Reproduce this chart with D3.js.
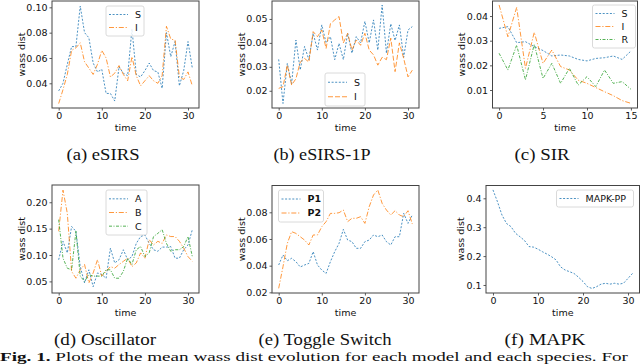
<!DOCTYPE html>
<html>
<head>
<meta charset="utf-8">
<script src="https://cdn.jsdelivr.net/npm/d3@7"></script>
<style>
body{margin:0;background:white;}
svg{display:block;}
.tick text{font-family:"DejaVu Sans",sans-serif;}
</style>
</head>
<body>
<div id="chart"></div>
<script>
// time steps
var steps32 = [0,1,2,3,4,5,6,7,8,9,10,11,12,13,14,15,16,17,18,19,20,21,22,23,24,25,26,27,28,29,30,31]
var steps16 = [0,1,2,3,4,5,6,7,8,9,10,11,12,13,14,15]

// (a) eSIRS
var esirsS = [0.034,0.040,0.055,0.069,0.069,0.101,0.080,0.076,0.056,0.049,0.051,0.032,0.032,0.026,0.053,0.048,0.046,0.083,0.047,0.045,0.050,0.056,0.050,0.049,0.036,0.080,0.061,0.073,0.038,0.050,0.073,0.052]
var esirsI = [0.024,0.035,0.047,0.066,0.068,0.072,0.057,0.052,0.047,0.055,0.066,0.060,0.045,0.048,0.054,0.047,0.042,0.061,0.046,0.038,0.042,0.046,0.042,0.040,0.046,0.085,0.075,0.074,0.045,0.043,0.049,0.038]

// (b) eSIRS-1P
var esirs1pS = [0.0331,0.0147,0.0314,0.0230,0.0412,0.0287,0.0385,0.0330,0.0440,0.0370,0.0475,0.0400,0.0426,0.0330,0.0398,0.0330,0.0440,0.0357,0.0426,0.0400,0.0490,0.0400,0.0496,0.0370,0.0558,0.0357,0.0480,0.0410,0.0475,0.0340,0.0454,0.0468]
var esirs1pI = [0.0210,0.0217,0.0307,0.0224,0.0250,0.0320,0.0335,0.0320,0.0447,0.0426,0.0454,0.0377,0.0480,0.0496,0.0510,0.0400,0.0440,0.0370,0.0412,0.0390,0.0440,0.0370,0.0350,0.0307,0.0340,0.0330,0.0420,0.0280,0.0400,0.0335,0.0258,0.0286]

// (c) SIR
var sirS = [0.0350,0.0357,0.0292,0.0296,0.0276,0.0260,0.0238,0.0242,0.0238,0.0224,0.0218,0.0228,0.0231,0.0238,0.0224,0.0258]
var sirI = [0.0445,0.0316,0.0435,0.0188,0.0334,0.0208,0.0262,0.0195,0.0181,0.0140,0.0127,0.0110,0.0093,0.0077,0.0057,0.0046]
var sirR = [0.0249,0.0181,0.0282,0.0141,0.0285,0.0147,0.0208,0.0127,0.0188,0.0120,0.0154,0.0114,0.0181,0.0127,0.0134,0.0103]

// (d) Oscillator
var oscA = [0.091,0.126,0.104,0.154,0.145,0.078,0.047,0.072,0.040,0.066,0.063,0.056,0.113,0.085,0.091,0.110,0.091,0.097,0.122,0.135,0.138,0.122,0.110,0.107,0.115,0.115,0.116,0.094,0.094,0.110,0.119,0.148]
var oscB = [0.145,0.223,0.179,0.069,0.056,0.072,0.082,0.047,0.066,0.091,0.060,0.069,0.078,0.075,0.082,0.088,0.094,0.078,0.085,0.104,0.094,0.129,0.119,0.126,0.122,0.138,0.135,0.135,0.126,0.113,0.097,0.088]
var oscC = [0.167,0.094,0.075,0.072,0.145,0.060,0.050,0.063,0.060,0.060,0.060,0.072,0.072,0.056,0.056,0.069,0.094,0.082,0.110,0.116,0.097,0.104,0.135,0.141,0.148,0.122,0.107,0.110,0.110,0.116,0.135,0.097]

// (e) Toggle Switch
var toggleP1 = [0.0405,0.0480,0.0437,0.0455,0.0430,0.0390,0.0405,0.0417,0.0505,0.0405,0.0367,0.0342,0.0430,0.0505,0.0567,0.0672,0.0592,0.0580,0.0530,0.0530,0.0580,0.0592,0.0630,0.0617,0.0630,0.0580,0.0555,0.0617,0.0617,0.0792,0.0717,0.0780]
var toggleP2 = [0.0230,0.0392,0.0567,0.0655,0.0642,0.0617,0.0592,0.0555,0.0630,0.0630,0.0692,0.0730,0.0792,0.0792,0.0797,0.0817,0.0730,0.0755,0.0755,0.0767,0.0717,0.0842,0.0930,0.0967,0.0867,0.0817,0.0780,0.0812,0.0780,0.0767,0.0812,0.0712]

// (f) MAPK
var mapkPP = [0.429,0.388,0.342,0.313,0.302,0.279,0.267,0.254,0.233,0.231,0.224,0.215,0.207,0.198,0.187,0.163,0.152,0.146,0.140,0.127,0.112,0.094,0.088,0.094,0.103,0.106,0.103,0.106,0.103,0.106,0.123,0.140]

var ticks31 = [0,10,20,30]
var ticks15 = [0,5,10,15]

var blue = "#1f77b4", orange = "#ff7f0e", green = "#2ca02c"
var dotted = "2,1.6", dashdot = "5,1.8,1.2,1.8", greenDash = "3,1.5,1,1.5"
var fontSans = "'DejaVu Sans',sans-serif"
var fontSerif = "'Liberation Serif',serif"

var panels = [
  {caption:"(a) eSIRS", box:[52,199,1,108], xd:[-1.55,32.55], yd:[0.0205,0.105], xt:ticks31, yt:[0.04,0.06,0.08,0.10], yf:".2f",
   series:[{name:"S",t:steps32,v:esirsS,c:blue,d:dotted},{name:"I",t:steps32,v:esirsI,c:orange,d:dashdot}],
   legend:[106,6,38,30], capX:103, capY:154, capW:73},
  {caption:"(b) eSIRS-1P", box:[272,419,1,108], xd:[-1.55,32.55], yd:[0.0128,0.0575], xt:ticks31, yt:[0.02,0.03,0.04,0.05], yf:".2f",
   series:[{name:"S",t:steps32,v:esirs1pS,c:blue,d:dotted},{name:"I",t:steps32,v:esirs1pI,c:orange,d:"5,2"}],
   legend:[325,73,40,33], capX:322, capY:154, capW:97},
  {caption:"(c) SIR", box:[492.5,637.5,1,108], xd:[-0.75,15.75], yd:[0.0027,0.0461], xt:ticks15, yt:[0.01,0.02,0.03,0.04], yf:".2f",
   series:[{name:"S",t:steps16,v:sirS,c:blue,d:dotted},{name:"I",t:steps16,v:sirI,c:orange,d:dashdot},{name:"R",t:steps16,v:sirR,c:green,d:greenDash}],
   legend:[592.5,5,43,43], capX:542, capY:154, capW:55},
  {caption:"(d) Oscillator", box:[52,199,185,293], xd:[-1.55,32.55], yd:[0.028,0.2327], xt:ticks31, yt:[0.05,0.10,0.15,0.20], yf:".2f",
   series:[{name:"A",t:steps32,v:oscA,c:blue,d:dotted},{name:"B",t:steps32,v:oscB,c:orange,d:dashdot},{name:"C",t:steps32,v:oscC,c:green,d:greenDash}],
   legend:[106,190,41,45], capX:105, capY:339, capW:102},
  {caption:"(e) Toggle Switch", box:[272,419,185.5,293], xd:[-1.55,32.55], yd:[0.0195,0.1001], xt:ticks31, yt:[0.02,0.04,0.06,0.08], yf:".2f",
   series:[{name:"P1",t:steps32,v:toggleP1,c:blue,d:dotted},{name:"P2",t:steps32,v:toggleP2,c:orange,d:dashdot}],
   legend:[278.5,190,45,32], bold:true, capX:325, capY:339, capW:133},
  {caption:"(f) MAPK", box:[486,639.5,185.5,293], xd:[-1.55,32.55], yd:[0.0723,0.4443], xt:ticks31, yt:[0.1,0.2,0.3,0.4], yf:".1f",
   series:[{name:"MAPK-PP",t:steps32,v:mapkPP,c:blue,d:dotted}],
   legend:[556.5,190,77,17], capX:545, capY:339, capW:81}
]

var svg = d3.select("#chart").append("svg")
  .attr("width",640)
  .attr("height",364)

panels.forEach(function(p){
  var b = p.box
  var x = d3.scaleLinear().domain(p.xd).range([b[0],b[1]])
  var y = d3.scaleLinear().domain(p.yd).range([b[3],b[2]])
  var g = svg.append("g")

  // lines
  var line = d3.line().x(function(d){return x(d[0])}).y(function(d){return y(d[1])})
  p.series.forEach(function(s){
    g.append("path")
      .datum(d3.zip(s.t,s.v))
      .attr("d",line)
      .attr("fill","none")
      .attr("stroke",s.c)
      .attr("stroke-width",1)
      .attr("stroke-dasharray",s.d)
      .attr("opacity",0.8)
  })

  // axes
  var xAxis = d3.axisBottom(x).tickValues(p.xt).tickSize(2.5).tickPadding(2).tickFormat(d3.format("d"))
  var yAxis = d3.axisLeft(y).tickValues(p.yt).tickSize(2.5).tickPadding(2).tickFormat(d3.format(p.yf))
  g.append("g").attr("transform","translate(0,"+b[3]+")").call(xAxis)
  g.append("g").attr("transform","translate("+b[0]+",0)").call(yAxis)
  g.selectAll(".domain").remove()
  g.selectAll(".tick line").attr("stroke","#333").attr("stroke-width",0.8)
  g.selectAll(".tick text").attr("font-size",9.5).attr("fill","#111")

  // frame
  g.append("rect")
    .attr("x",b[0]).attr("y",b[2])
    .attr("width",b[1]-b[0]).attr("height",b[3]-b[2])
    .attr("fill","none").attr("stroke","#444").attr("stroke-width",1)

  // axis labels
  g.append("text")
    .attr("x",(b[0]+b[1])/2).attr("y",b[3]+23)
    .attr("text-anchor","middle")
    .attr("font-family",fontSans).attr("font-size",9.5).attr("fill","#111")
    .text("time")
  var ylx = b[0] - (p.yf==".1f" ? 25 : 30.5)
  g.append("text")
    .attr("transform","translate("+ylx+","+((b[2]+b[3])/2)+") rotate(-90)")
    .attr("text-anchor","middle").attr("dy","0.35em")
    .attr("font-family",fontSans).attr("font-size",9.5).attr("fill","#111")
    .text("wass dist")

  // legend
  var L = p.legend
  g.append("rect")
    .attr("x",L[0]).attr("y",L[1]).attr("width",L[2]).attr("height",L[3])
    .attr("rx",2)
    .attr("fill","white").attr("fill-opacity",0.85)
    .attr("stroke","#d0d0d0").attr("stroke-width",0.8)
  var rowH = (L[3]-4)/p.series.length
  p.series.forEach(function(s,i){
    var ry = L[1]+2+rowH*(i+0.5)
    g.append("line")
      .attr("x1",L[0]+3).attr("x2",L[0]+22)
      .attr("y1",ry).attr("y2",ry)
      .attr("stroke",s.c).attr("stroke-width",1)
      .attr("stroke-dasharray",s.d).attr("opacity",0.8)
    g.append("text")
      .attr("x",L[0]+29).attr("y",ry).attr("dy","0.36em")
      .attr("font-family",fontSans).attr("font-size",9.5).attr("fill","#111")
      .attr("font-weight",p.bold ? "bold" : "normal")
      .text(s.name)
  })

  // sub caption
  svg.append("text")
    .attr("x",p.capX - p.capW/2).attr("y",p.capY).attr("dy","0.35em")
    .attr("textLength",p.capW).attr("lengthAdjust","spacingAndGlyphs")
    .attr("font-family",fontSerif).attr("font-size",16)
    .attr("fill","#111")
    .text(p.caption)
})

// figure caption along the bottom edge
var fig = svg.append("text")
  .attr("x",0).attr("y",361)
  .attr("textLength",628).attr("lengthAdjust","spacingAndGlyphs")
  .attr("font-family",fontSerif).attr("font-size",13.5)
  .attr("fill","#111")
fig.append("tspan").attr("font-weight","bold").text("Fig. 1.")
fig.append("tspan").text("  Plots of the mean wass dist evolution for each model and each species. For")
</script>
</body>
</html>
